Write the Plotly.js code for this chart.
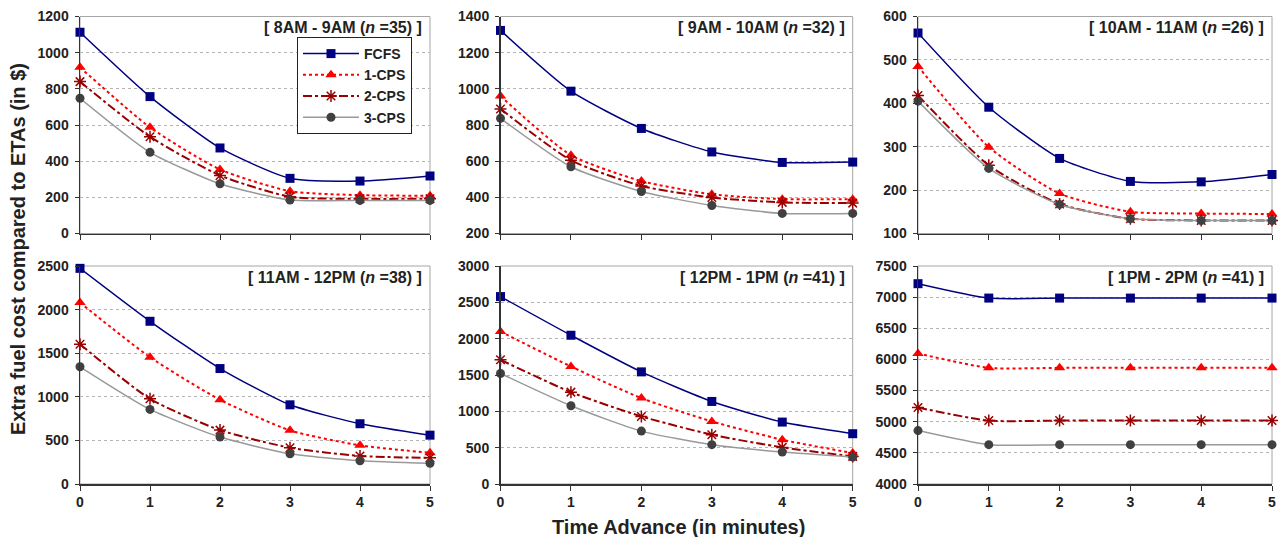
<!DOCTYPE html>
<html>
<head>
<meta charset="utf-8">
<script src="https://cdn.plot.ly/plotly-3.0.1.min.js"></script>
<style>html,body{margin:0;padding:0;background:#fff;}#chart{width:1287px;height:537px;}</style>
</head>
<body>
<div id="chart"></div>
<script>
// ---- data ----
const timeAdvance = [0, 1, 2, 3, 4, 5];
const seriesNames = ["FCFS", "1-CPS", "2-CPS", "3-CPS"];
const panelTitles = ["8AM - 9AM", "9AM - 10AM", "10AM - 11AM", "11AM - 12PM", "12PM - 1PM", "1PM - 2PM"];
const panelN = [35, 32, 26, 38, 41, 41];

const fcfs_8_9  = [1113, 757, 473, 305, 290, 318];
const cps1_8_9  = [919, 587, 354, 234, 212, 209];
const cps2_8_9  = [840, 535, 321, 203, 192, 192];
const cps3_8_9  = [748, 449, 275, 185, 183, 183];

const fcfs_9_10 = [1323, 987, 781, 651, 593, 595];
const cps1_9_10 = [960, 633, 490, 417, 390, 390];
const cps2_9_10 = [889, 605, 463, 399, 372, 368];
const cps3_9_10 = [837, 569, 432, 355, 311, 311];

const fcfs_10_11 = [562, 391, 273, 220, 219, 236];
const cps1_10_11 = [485, 299, 192, 150, 146, 145];
const cps2_10_11 = [418, 257, 168, 134, 130, 130];
const cps3_10_11 = [405, 250, 167, 134, 130, 130];

const fcfs_11_12 = [2473, 1866, 1324, 908, 691, 560];
const cps1_11_12 = [2080, 1454, 966, 615, 443, 358];
const cps2_11_12 = [1603, 977, 618, 416, 321, 300];
const cps3_11_12 = [1344, 855, 538, 347, 267, 238];

const fcfs_12_1 = [2579, 2047, 1543, 1136, 852, 692];
const cps1_12_1 = [2098, 1617, 1182, 861, 609, 426];
const cps2_12_1 = [1709, 1264, 930, 678, 504, 380];
const cps3_12_1 = [1521, 1077, 728, 541, 440, 371];

const fcfs_1_2 = [7216, 6985, 6985, 6985, 6985, 6985];
const cps1_1_2 = [6096, 5865, 5865, 5865, 5865, 5865];
const cps2_1_2 = [5227, 5018, 5018, 5018, 5018, 5018];
const cps3_1_2 = [4858, 4632, 4632, 4632, 4632, 4632];

const yRanges = [[0, 1200], [200, 1400], [100, 600], [0, 2500], [0, 3000], [4000, 7500]];
const yDticks = [200, 200, 100, 500, 500, 500];

const panelData = [
  [fcfs_8_9, cps1_8_9, cps2_8_9, cps3_8_9],
  [fcfs_9_10, cps1_9_10, cps2_9_10, cps3_9_10],
  [fcfs_10_11, cps1_10_11, cps2_10_11, cps3_10_11],
  [fcfs_11_12, cps1_11_12, cps2_11_12, cps3_11_12],
  [fcfs_12_1, cps1_12_1, cps2_12_1, cps3_12_1],
  [fcfs_1_2, cps1_1_2, cps2_1_2, cps3_1_2]
];

// ---- styles ----
const styles = [
  {line: {color: "#000080", width: 1.5, dash: "solid"}, marker: {symbol: "square", size: 9, color: "#000080"}},
  {line: {color: "#ff0000", width: 2, dash: "dot"}, marker: {symbol: "triangle-up", size: 10, color: "#ff0000"}},
  {line: {color: "#990000", width: 2, dash: "dashdot"}, marker: {symbol: "asterisk-open", size: 10, color: "#990000", line: {color: "#990000", width: 1.5}}},
  {line: {color: "#999999", width: 1.5, dash: "solid"}, marker: {symbol: "circle", size: 9, color: "#404040"}}
];

const W = 1287, H = 537;
const xDom = [[80, 430], [500.5, 852.7], [918, 1272]];
const yDomTop = [16.5, 233.5];
const yDomBot = [266, 484];

const FONT = "Liberation Sans, Arial, sans-serif";
const traces = [];
const layout = {
  width: W, height: H,
  margin: {l: 0, r: 0, t: 0, b: 0},
  paper_bgcolor: "#ffffff",
  plot_bgcolor: "#ffffff",
  font: {family: FONT, color: "#222222"},
  showlegend: true,
  legend: {
    x: 297 / W, y: 1 - 37 / H, xanchor: "left", yanchor: "top",
    bgcolor: "#ffffff", bordercolor: "#222222", borderwidth: 1,
    font: {family: FONT, size: 14, color: "#222222", weight: "bold"},
    tracegroupgap: 0, itemwidth: 56
  },
  shapes: [],
  annotations: []
};

for (let p = 0; p < 6; p++) {
  const col = p % 3, row = Math.floor(p / 3);
  const ax = p === 0 ? "" : String(p + 1);
  const xd = xDom[col];
  const yd = row === 0 ? yDomTop : yDomBot;
  layout["xaxis" + ax] = {
    domain: [xd[0] / W, xd[1] / W],
    anchor: "y" + ax,
    range: [0, 5], tickvals: timeAdvance,
    showticklabels: row === 1,
    ticks: "outside", ticklen: 5, tickcolor: "#333333", tickwidth: 1,
    showgrid: false, zeroline: false,
    showline: true, linecolor: "#333333", linewidth: 1.5,
    tickfont: {family: FONT, size: 14, color: "#222222", weight: "bold"},
    fixedrange: true
  };
  layout["yaxis" + ax] = {
    domain: [1 - yd[1] / H, 1 - yd[0] / H],
    anchor: "x" + ax,
    range: yRanges[p], dtick: yDticks[p], tick0: 0,
    ticks: "outside", ticklen: 4, tickcolor: "#333333", tickwidth: 1,
    showgrid: true, gridcolor: "#b4b4b4", griddash: "dot", gridwidth: 1,
    zeroline: false,
    showline: true, linecolor: "#333333", linewidth: 1.5,
    tickfont: {family: FONT, size: 14, color: "#222222", weight: "bold"},
    ticklabelstandoff: 3,
    fixedrange: true
  };
  layout.shapes.push({
    type: "rect", xref: "x" + ax + " domain", yref: "y" + ax + " domain",
    x0: 0, x1: 1, y0: 0, y1: 1, line: {color: "#a6a6a6", width: 1}, layer: "below"
  });
  layout.annotations.push({
    xref: "x" + ax + " domain", yref: "y" + ax + " domain",
    x: 1, y: 1, xanchor: "right", yanchor: "middle", xshift: -6, yshift: -11,
    showarrow: false,
    text: "[ " + panelTitles[p] + " (<i>n</i> =" + panelN[p] + ") ]",
    font: {family: FONT, size: 16, color: "#222222", weight: "bold"}
  });
  for (let s = 0; s < 4; s++) {
    traces.push({
      type: "scatter", mode: "lines+markers",
      x: timeAdvance, y: panelData[p][s],
      xaxis: "x" + ax, yaxis: "y" + ax,
      name: seriesNames[s],
      showlegend: p === 0,
      legendgroup: seriesNames[s],
      line: Object.assign({shape: "spline", smoothing: 0.6}, styles[s].line),
      marker: styles[s].marker,
      cliponaxis: false,
      hoverinfo: "skip"
    });
  }
}

layout.annotations.push({
  xref: "paper", yref: "paper", x: 18 / W, y: 1 - 249 / H,
  xanchor: "center", yanchor: "middle", textangle: -90, showarrow: false,
  text: "Extra fuel cost compared to ETAs (in $)",
  font: {family: FONT, size: 20, color: "#222222", weight: "bold"}
});
layout.annotations.push({
  xref: "paper", yref: "paper", x: 678 / W, y: 1 - 527 / H,
  xanchor: "center", yanchor: "middle", showarrow: false,
  text: "Time Advance (in minutes)",
  font: {family: FONT, size: 20, color: "#222222", weight: "bold"}
});

Plotly.newPlot("chart", traces, layout, {displayModeBar: false, staticPlot: true});
</script>
</body>
</html>
